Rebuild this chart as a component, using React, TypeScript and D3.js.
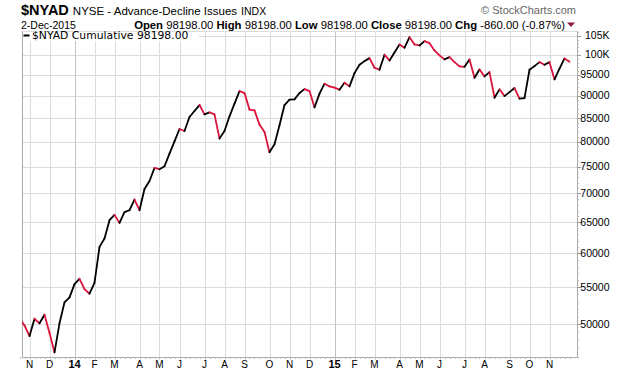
import * as d3 from "d3";

// weekly closes of $NYAD, first week starts Monday 21-Oct-2013
const firstWeek = new Date(2013, 9, 21);
const values2013 = [50800, 49850, 48520, 50720, 50130, 51250, 48900, 46530, 50130, 52900, 53590];
const values2014 = [
  55450, 56210, 54740, 54090, 55640, 61020, 62350, 65350, 66250, 64900, 66710, 67050, 68920,
  67050, 70820, 72290, 74750, 74500, 75070, 77560, 80050, 82620, 82190, 85200, 86530, 87870,
  85790, 86240, 85790, 80610, 82190, 85360, 88180, 91080, 90620, 86840, 86680, 83560, 81980,
  77820, 79430, 83410, 87870, 89090, 89160, 90620, 91550, 91080, 87350, 90480, 92830, 92190,
];
const values2015 = [
  91880, 91410, 93070, 92190, 95390, 97470, 98380, 99140, 96720, 96230, 100010, 98550,
  100600, 102690, 101820, 104630, 102690, 102420, 103560, 103030, 101120, 99830, 98810, 99390,
  98120, 97050, 96950, 98810, 94270, 96300, 94590, 95640, 89550, 91480, 89920, 90850,
  91790, 89320, 89460, 96230, 97120, 98120, 97470, 98120, 93860, 96480, 99058, 98198,
];
const yTicks = [50000, 55000, 60000, 65000, 70000, 75000, 80000, 85000, 90000, 95000, 100000, 105000];
const monthLetters = ["J", "F", "M", "A", "M", "J", "J", "A", "S", "O", "N", "D"];

const W = 641;
const H = 373;
const left = 22;
const right = 577;
const top = 31;
const bottom = 357;
const RED = "#dc143c";
const FONT = "'Liberation Sans', Arial, sans-serif";

export default function App() {
  const values = [...values2013, ...values2014, ...values2015];
  const dates = values.map((_, i) => d3.timeMonday.offset(firstWeek, i));

  const x = d3
    .scaleTime()
    .domain([dates[0], dates[dates.length - 1]])
    .range([19.5, 569.5]);
  const y = d3.scaleLog().domain([45970, 106300]).range([bottom, top]);

  // first week of every month gets a grid line
  const monthStarts = dates.filter((d, i) => i > 0 && d.getMonth() !== dates[i - 1].getMonth());
  const minorY = d3.range(46000, 106001, 1000);

  const fmtY = (v: number) => (v >= 100000 ? `${v / 1000}K` : `${v}`);

  return (
    <svg width={W} height={H} style={{ position: "absolute", left: 0, top: 0, background: "#fff" }}>
      <defs>
        <clipPath id="plot-clip">
          <rect x={left} y={top} width={right - left} height={bottom - top} />
        </clipPath>
      </defs>

      {/* horizontal grid */}
      {yTicks.map((t) => (
        <line key={t} x1={left} x2={right} y1={Math.round(y(t)) + 0.5} y2={Math.round(y(t)) + 0.5} stroke="#dcdcdc" />
      ))}
      {/* vertical grid */}
      {monthStarts.map((d) => {
        const xx = Math.round(x(d)) + 0.5;
        const jan = d.getMonth() === 0;
        return (
          <line key={+d} x1={xx} x2={xx} y1={top} y2={bottom + 3} stroke={jan ? "#c4c4c4" : "#dcdcdc"} />
        );
      })}

      {/* frame */}
      <line x1={left + 0.5} x2={left + 0.5} y1={top} y2={bottom} stroke="#aaa" />
      <line x1={right + 0.5} x2={right + 0.5} y1={top} y2={bottom + 0.5} stroke="#aaa" />
      <line x1={left} x2={right + 0.5} y1={bottom + 0.5} y2={bottom + 0.5} stroke="#aaa" />
      <line x1={left} x2={right} y1={top + 0.5} y2={top + 0.5} stroke="#dcdcdc" />

      {/* bottom weekly ticks */}
      {dates.map((d) => (
        <line key={"w" + +d} x1={Math.round(x(d)) + 0.5} x2={Math.round(x(d)) + 0.5} y1={bottom} y2={bottom + 2} stroke="#bbb" />
      ))}
      {/* right minor ticks */}
      {minorY.map((t) => (
        <line key={"m" + t} x1={right} x2={right + 2} y1={Math.round(y(t)) + 0.5} y2={Math.round(y(t)) + 0.5} stroke="#bbb" />
      ))}
      {yTicks.map((t) => (
        <g key={"t" + t}>
          <line x1={right} x2={right + 4} y1={Math.round(y(t)) + 0.5} y2={Math.round(y(t)) + 0.5} stroke="#999" />
          <text x={609.5} y={y(t)} dy="0.35em" textAnchor="end" fontFamily={FONT} fontSize={10.5} fill="#000">
            {fmtY(t)}
          </text>
        </g>
      ))}

      {/* month labels */}
      {monthStarts.map((d) => {
        const jan = d.getMonth() === 0;
        return (
          <text
            key={"l" + +d}
            x={x(d)}
            y={368}
            textAnchor="middle"
            fontFamily={FONT}
            fontSize={jan ? 11 : 10}
            fontWeight={jan ? "bold" : "normal"}
            fill="#000"
          >
            {jan ? d3.timeFormat("%y")(d) : monthLetters[d.getMonth()]}
          </text>
        );
      })}

      {/* price line: black up, red down */}
      <g clipPath="url(#plot-clip)">
        {values.slice(1).map((v, k) => {
          const i = k + 1;
          return (
            <line
              key={"s" + i}
              x1={x(dates[i - 1])}
              y1={y(values[i - 1])}
              x2={x(dates[i])}
              y2={y(v)}
              stroke={v < values[i - 1] ? RED : "#000"}
              strokeWidth={1.8}
              strokeLinecap="round"
            />
          );
        })}
      </g>

      {/* legend */}
      <rect x={left + 1} y={top + 1} width={176} height={9} fill="#fff" />
      <line x1={23.5} x2={29.5} y1={35.5} y2={35.5} stroke="#000" strokeWidth={2} />
      <text x={32} y={39} fontFamily="'DejaVu Sans', Verdana, sans-serif" fontSize={10.8} fill="#000">
        $NYAD Cumulative 98198.00
      </text>

      {/* header */}
      <text x={21} y={14.5} fontFamily={FONT} fill="#000">
        <tspan fontSize={14.5} fontWeight="bold">$NYAD</tspan>
        <tspan fontSize={11.5} dx={4}>NYSE - Advance-Decline Issues</tspan>
        <tspan fontSize={10.5} dx={4}>INDX</tspan>
      </text>
      <text x={21} y={28.5} fontFamily={FONT} fontSize={10.5} fill="#000">
        2-Dec-2015
      </text>
      <text x={565} y={28.5} textAnchor="end" fontFamily={FONT} fontSize={11.3} fill="#000">
        <tspan fontWeight="bold">Open</tspan> 98198.00 <tspan fontWeight="bold">High</tspan> 98198.00{" "}
        <tspan fontWeight="bold">Low</tspan> 98198.00 <tspan fontWeight="bold">Close</tspan> 98198.00{" "}
        <tspan fontWeight="bold">Chg</tspan> -860.00 (-0.87%)
      </text>
      <path d="M567,22.5 L575,22.5 L571,27 Z" fill="#8b1a3a" />
      <text x={576} y={14} textAnchor="end" fontFamily={FONT} fontSize={11} fill="#666">
        © StockCharts.com
      </text>
    </svg>
  );
}
